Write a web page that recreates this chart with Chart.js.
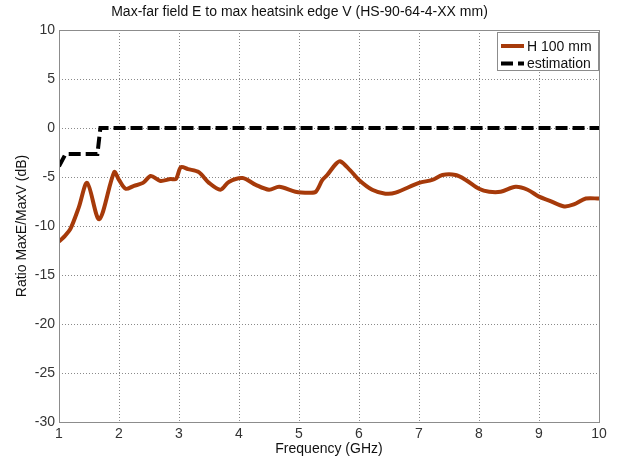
<!DOCTYPE html>
<html>
<head>
<meta charset="utf-8">
<script src="https://cdn.jsdelivr.net/npm/chart.js@4"></script>
<style>
  html, body { margin: 0; padding: 0; background: #fff; }
  canvas { display: block; }
</style>
</head>
<body>
<canvas id="chart" width="618" height="459"></canvas>
<script>
  // measured curve, H 100 mm
  var freqH100 = [1.0, 1.1, 1.19, 1.33, 1.47, 1.67, 1.92, 2.0, 2.11, 2.25, 2.4, 2.53, 2.69, 2.86, 2.95, 3.03, 3.15, 3.33, 3.5, 3.69, 3.83, 4.06, 4.28, 4.5, 4.67, 4.94, 5.17, 5.28, 5.39, 5.47, 5.61, 5.69, 5.85, 6.0, 6.22, 6.44, 6.61, 7.0, 7.22, 7.39, 7.61, 7.78, 8.0, 8.17, 8.36, 8.61, 8.81, 9.0, 9.17, 9.42, 9.58, 9.78, 10.0];
  var ratioH100 = [-11.6, -11.0, -10.3, -8.1, -5.6, -9.3, -4.5, -5.3, -6.2, -5.9, -5.6, -4.9, -5.4, -5.2, -5.2, -4.0, -4.2, -4.5, -5.6, -6.3, -5.5, -5.1, -5.8, -6.3, -6.0, -6.5, -6.6, -6.5, -5.3, -4.8, -3.7, -3.4, -4.3, -5.3, -6.3, -6.7, -6.6, -5.6, -5.3, -4.8, -4.8, -5.3, -6.2, -6.5, -6.5, -6.0, -6.3, -7.0, -7.4, -8.0, -7.8, -7.2, -7.2];

  // estimation curve
  var freqEst = [1.0, 1.11, 1.64, 1.69, 10.0];
  var ratioEst = [-3.9, -2.65, -2.65, 0, 0];

  var xTicks = [1, 2, 3, 4, 5, 6, 7, 8, 9, 10];
  var yTicks = [-30, -25, -20, -15, -10, -5, 0, 5, 10];

  var seriesLabels = ['H 100 mm', 'estimation'];

  function toPoints(xs, ys) {
    return xs.map(function (x, i) { return { x: x, y: ys[i] }; });
  }

  // matlab-like box + legend inside the plot
  var boxLegend = {
    id: 'boxLegend',
    afterDraw: function (chart) {
      var ctx = chart.ctx, a = chart.chartArea;
      ctx.save();
      ctx.strokeStyle = '#8c8c8c';
      ctx.lineWidth = 1;
      ctx.strokeRect(a.left + 0.5, a.top + 0.5, a.right - a.left, a.bottom - a.top);

      var bx = 497, by = 32, bw = 101, bh = 38;
      ctx.fillStyle = '#fff';
      ctx.fillRect(bx, by, bw, bh);
      ctx.strokeStyle = '#8c8c8c';
      ctx.strokeRect(bx + 0.5, by + 0.5, bw, bh);

      ctx.font = '14px "Liberation Sans", Arial, sans-serif';
      ctx.textBaseline = 'middle';
      chart.data.datasets.forEach(function (ds, i) {
        var y = by + 14 + i * 17.5;
        ctx.beginPath();
        ctx.strokeStyle = ds.borderColor;
        ctx.lineWidth = ds.borderWidth;
        ctx.setLineDash(ds.borderDash || []);
        ctx.moveTo(501, y);
        ctx.lineTo(524, y);
        ctx.stroke();
        ctx.setLineDash([]);
        ctx.fillStyle = '#111';
        ctx.fillText(ds.label, 527, y + 1);
      });
      ctx.restore();
    }
  };

  var ctx = document.getElementById('chart').getContext('2d');
  new Chart(ctx, {
    type: 'line',
    data: {
      datasets: [{
        label: seriesLabels[0],
        data: toPoints(freqH100, ratioH100),
        borderColor: '#a63a0a',
        borderWidth: 4,
        pointRadius: 0,
        tension: 0.3,
        fill: false
      }, {
        label: seriesLabels[1],
        data: toPoints(freqEst, ratioEst),
        borderColor: '#000',
        borderWidth: 4,
        borderDash: [12, 5],
        pointRadius: 0,
        tension: 0,
        fill: false
      }]
    },
    plugins: [boxLegend],
    options: {
      responsive: false,
      animation: false,
      layout: { padding: { left: 0, right: 19, top: 0, bottom: 0 } },
      plugins: {
        legend: { display: false },
        tooltip: { enabled: false },
        title: {
          display: true,
          text: 'Max-far field E to max heatsink edge V (HS-90-64-4-XX mm)',
          color: '#111',
          font: { family: '"Liberation Sans", Arial, sans-serif', size: 14, weight: 'normal' },
          padding: { top: 4, bottom: 9.2 }
        }
      },
      scales: {
        x: {
          type: 'linear',
          min: xTicks[0],
          max: xTicks[xTicks.length - 1],
          afterFit: function (s) { s.height = 37; },
          afterBuildTicks: function (s) { s.ticks = xTicks.map(function (v) { return { value: v }; }); },
          border: { display: false, dash: [1, 2] },
          grid: { color: '#8a8a8a', drawTicks: false },
          ticks: {
            padding: 4,
            color: '#333',
            font: { family: '"Liberation Sans", Arial, sans-serif', size: 14 }
          },
          title: {
            display: true,
            text: 'Frequency (GHz)',
            color: '#111',
            font: { family: '"Liberation Sans", Arial, sans-serif', size: 14 },
            padding: { top: 0, bottom: 1 }
          }
        },
        y: {
          min: yTicks[0],
          max: yTicks[yTicks.length - 1],
          afterFit: function (s) { s.width = 59; },
          afterBuildTicks: function (s) { s.ticks = yTicks.map(function (v) { return { value: v }; }); },
          border: { display: false, dash: [1, 2] },
          grid: { color: '#8a8a8a', drawTicks: false },
          ticks: {
            padding: 4,
            color: '#333',
            font: { family: '"Liberation Sans", Arial, sans-serif', size: 14 }
          },
          title: {
            display: true,
            text: 'Ratio MaxE/MaxV (dB)',
            color: '#111',
            font: { family: '"Liberation Sans", Arial, sans-serif', size: 14 },
            padding: { top: 14, bottom: 0 }
          }
        }
      }
    }
  });
</script>
</body>
</html>
